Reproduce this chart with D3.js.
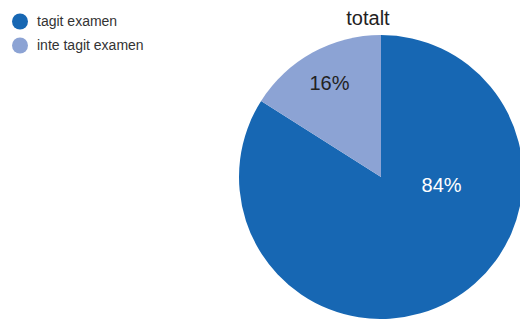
<!DOCTYPE html>
<html>
<head>
<meta charset="utf-8">
<script src="https://cdn.jsdelivr.net/npm/d3@7/dist/d3.min.js"></script>
<style>
  html, body { margin: 0; padding: 0; background: #fff; overflow: hidden; }
  text { font-family: "Liberation Sans", Arial, sans-serif; }
</style>
</head>
<body>
<div id="chart"></div>
<script>
  var categories = ['tagit examen', 'inte tagit examen'],
    values = [84, 16],
    labels = ['84%', '16%'],
    colors = ['#1767b3', '#8ca3d4'],
    title = 'totalt';

  var width = 520,
    height = 319,
    radius = 142,
    cx = 381,
    cy = 177;

  var svg = d3.select('#chart')
    .append('svg')
    .attr('width', width)
    .attr('height', height);

  var pie = d3.pie()
    .sort(null)
    .value(function (d) { return d; });

  var arcs = pie(values);

  var arc = d3.arc().innerRadius(0).outerRadius(radius);

  var g = svg.append('g')
    .attr('transform', 'translate(' + [cx, cy] + ')');

  g.selectAll('path')
    .data(arcs)
    .enter()
    .append('path')
    .attr('d', arc)
    .attr('fill', function (d, i) { return colors[i]; });

  // small slice label on its centroid, big one just right of centre
  var labelArc = d3.arc().innerRadius(107).outerRadius(107);

  g.selectAll('text.lbl')
    .data(arcs)
    .enter()
    .append('text')
    .attr('class', 'lbl')
    .attr('transform', function (d, i) {
      var c = i === 0 ? d3.pointRadial(Math.PI * 0.54, 61) : labelArc.centroid(d);
      return 'translate(' + c + ')';
    })
    .attr('text-anchor', 'middle')
    .attr('dy', '0.36em')
    .attr('font-size', 20)
    .attr('fill', function (d, i) { return i === 0 ? '#fff' : '#222'; })
    .text(function (d, i) { return labels[i]; });

  svg.append('text')
    .attr('x', 368)
    .attr('y', 25)
    .attr('text-anchor', 'middle')
    .attr('font-size', 20)
    .attr('fill', '#222')
    .text(title);

  var legend = svg.selectAll('.legend')
    .data(categories)
    .enter()
    .append('g')
    .attr('class', 'legend')
    .attr('transform', function (d, i) {
      return 'translate(' + [20, 21.5 + i * 24] + ')';
    });

  legend.append('circle')
    .attr('r', 8)
    .attr('fill', function (d, i) { return colors[i]; });

  legend.append('text')
    .attr('x', 17)
    .attr('dy', '0.35em')
    .attr('font-size', 14)
    .attr('fill', '#333')
    .text(function (d) { return d; });
</script>
</body>
</html>
